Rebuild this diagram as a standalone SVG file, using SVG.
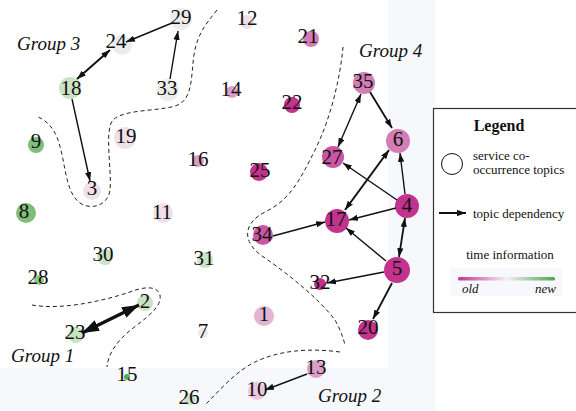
<svg xmlns="http://www.w3.org/2000/svg" width="576" height="411" viewBox="0 0 576 411" font-family="'Liberation Serif', 'Times New Roman', serif">
<style>
text{font-family:'Liberation Serif','Times New Roman',serif}
.n text{font-size:21px;fill:#111;text-anchor:middle}
.e line{stroke:#111;stroke-width:1.4}
.grp{fill:none;stroke:#222;stroke-width:1;stroke-dasharray:4 3}
.gl{font-style:italic;font-size:19px;fill:#111}
.lg{font-size:13px;fill:#111}
.mg{fill:#c2338e}.pm{fill:#ca55a2}.pk{fill:#d47cb5}.lp{fill:#dc9ec8}.vp{fill:#efe0ea}.gr{fill:#ececec}.lgn{fill:#c9e3c5}.gn{fill:#7fbd78}
</style>
<defs>
<marker id="ah" viewBox="0 0 10 7" refX="10" refY="3.5" markerWidth="9" markerHeight="6.5" markerUnits="userSpaceOnUse" orient="auto-start-reverse"><path d="M0,0 L10,3.5 L0,7 z" fill="#111"/></marker>
<marker id="ahb" viewBox="0 0 10 7" refX="10" refY="3.5" markerWidth="17" markerHeight="12" markerUnits="userSpaceOnUse" orient="auto-start-reverse"><path d="M0,0 L10,3.5 L0,7 z" fill="#111"/></marker>
<linearGradient id="tg" x1="0" x2="1" y1="0" y2="0"><stop offset="0" stop-color="#c2338e"/><stop offset="0.5" stop-color="#f4eef2"/><stop offset="1" stop-color="#4ca650"/></linearGradient>
</defs>
<rect width="576" height="411" fill="#fff"/>
<rect x="388" y="0" width="47" height="411" fill="#f7f8fc"/>
<rect x="0" y="368" width="435" height="43" fill="#f7f8fc"/>

<g id="boundaries">
<path class="grp" d="M217,10 C205,25 197,35 194,55 C191,75 193,95 180,104 C165,112 125,108 113,120 C104,130 112,170 110,190 C108,208 85,212 75,198 C65,185 65,160 58,140 C54,128 46,120 38,117"/>
<path class="grp" d="M343,47 C340,80 330,120 315,150 C300,180 290,200 265,212 C245,222 240,240 262,256 C290,275 320,300 335,320 C342,332 345,345 345,345"/>
<path class="grp" d="M340,352 C310,348 280,350 255,362 C235,372 220,390 205,405"/>
<path class="grp" d="M32,305 C60,310 100,302 130,292 C150,284 162,288 160,300 C157,312 140,322 127,333 C115,344 108,355 107,367"/>
<text class="gl" x="17" y="50">Group 3</text>
<text class="gl" x="359" y="57">Group 4</text>
<text class="gl" x="11" y="362">Group 1</text>
<text class="gl" x="318" y="402">Group 2</text>
</g>

<g id="n29" class="n"><circle class="gr" cx="181" cy="19" r="11"/><text x="181" y="24">29</text></g>
<g id="n24" class="n"><circle class="gr" cx="122" cy="45" r="10"/><text x="116" y="48">24</text></g>
<g id="n18" class="n"><circle class="lgn" cx="70" cy="88" r="11"/><text x="71" y="95">18</text></g>
<g id="n33" class="n"><circle class="gr" cx="168" cy="90" r="11"/><text x="167" y="95">33</text></g>
<g id="n12" class="n"><circle class="vp" cx="247" cy="22" r="7"/><text x="247" y="25">12</text></g>
<g id="n21" class="n"><circle class="pk" cx="311" cy="39" r="8"/><text x="308" y="43">21</text></g>
<g id="n14" class="n"><circle class="lp" cx="232" cy="92" r="6"/><text x="231" y="96">14</text></g>
<g id="n22" class="n"><circle class="mg" cx="292" cy="105" r="8"/><text x="292" y="109">22</text></g>
<g id="n35" class="n"><circle class="pk" cx="364" cy="83" r="11"/><text x="363" y="88">35</text></g>
<g id="n6" class="n"><circle class="pk" cx="398" cy="141" r="12"/><text x="398" y="146">6</text></g>
<g id="n27" class="n"><circle class="pm" cx="333" cy="157" r="11"/><text x="332" y="164">27</text></g>
<g id="n19" class="n"><circle class="vp" cx="125" cy="138" r="11"/><text x="126" y="143">19</text></g>
<g id="n9" class="n"><circle class="gn" cx="36" cy="145" r="8"/><text x="36" y="148">9</text></g>
<g id="n16" class="n"><circle class="lp" cx="198" cy="161" r="6"/><text x="198" y="166">16</text></g>
<g id="n25" class="n"><circle class="mg" cx="259" cy="172" r="9"/><text x="260" y="177">25</text></g>
<g id="n3" class="n"><circle class="vp" cx="92" cy="191" r="9"/><text x="92" y="195">3</text></g>
<g id="n8" class="n"><circle class="gn" cx="26" cy="213" r="10"/><text x="24" y="218">8</text></g>
<g id="n11" class="n"><circle class="vp" cx="163" cy="213" r="10"/><text x="162" y="219">11</text></g>
<g id="n4" class="n"><circle class="mg" cx="407" cy="206" r="12"/><text x="407" y="212">4</text></g>
<g id="n17" class="n"><circle class="mg" cx="337" cy="221" r="12"/><text x="336" y="226">17</text></g>
<g id="n34" class="n"><circle class="pm" cx="263" cy="235" r="10"/><text x="262" y="241">34</text></g>
<g id="n30" class="n"><circle class="lgn" cx="105" cy="257" r="8"/><text x="103" y="261">30</text></g>
<g id="n31" class="n"><circle class="lgn" cx="205" cy="260" r="8"/><text x="204" y="265">31</text></g>
<g id="n5" class="n"><circle class="mg" cx="397" cy="270" r="13"/><text x="397" y="275">5</text></g>
<g id="n32" class="n"><circle class="mg" cx="320" cy="284" r="6"/><text x="320" y="289">32</text></g>
<g id="n28" class="n"><circle fill="#8cc888" cx="39" cy="280" r="5"/><text x="38" y="284">28</text></g>
<g id="n2" class="n"><circle class="lgn" cx="145" cy="303" r="8"/><text x="145" y="308">2</text></g>
<g id="n23" class="n"><circle class="lgn" cx="76" cy="335" r="8"/><text x="75" y="339">23</text></g>
<g id="n7" class="n"><circle class="gr" cx="203" cy="333" r="5"/><text x="203" y="338">7</text></g>
<g id="n1" class="n"><circle fill="#e2b4d4" cx="264" cy="316" r="10"/><text x="264" y="321">1</text></g>
<g id="n20" class="n"><circle class="mg" cx="368" cy="330" r="10"/><text x="368" y="334">20</text></g>
<g id="n15" class="n"><circle fill="#4fae52" cx="127" cy="377" r="3"/><text x="127" y="381">15</text></g>
<g id="n13" class="n"><circle class="lp" cx="316" cy="369" r="9"/><text x="316" y="374">13</text></g>
<g id="n26" class="n"><circle class="lgn" cx="190" cy="399" r="6"/><text x="189" y="404">26</text></g>
<g id="n10" class="n"><circle fill="#ecc8e0" cx="257" cy="391" r="9"/><text x="257" y="396">10</text></g>

<g id="connectors" class="e">
<line x1="172" y1="23" x2="126" y2="42" marker-end="url(#ah)"/>
<line x1="170" y1="79" x2="178" y2="31" marker-end="url(#ah)"/>
<line x1="77" y1="79" x2="110" y2="50" style="stroke-width:2" marker-start="url(#ah)" marker-end="url(#ah)"/>
<line x1="72" y1="99" x2="90" y2="181" marker-end="url(#ah)"/>
<line x1="139" y1="305" x2="82" y2="333" style="stroke-width:3.5" marker-start="url(#ahb)" marker-end="url(#ahb)"/>
<line x1="307" y1="374" x2="265" y2="390" marker-end="url(#ah)"/>
<line x1="361" y1="94" x2="338" y2="147" marker-start="url(#ah)" marker-end="url(#ah)"/>
<line x1="370" y1="92" x2="392" y2="128" style="stroke-width:1.8" marker-end="url(#ah)"/>
<line x1="389" y1="150" x2="345" y2="210" style="stroke-width:2" marker-start="url(#ah)" marker-end="url(#ah)"/>
<line x1="397" y1="200" x2="343" y2="163" marker-end="url(#ah)"/>
<line x1="405" y1="194" x2="400" y2="153" marker-end="url(#ah)"/>
<line x1="396" y1="208" x2="349" y2="220" marker-end="url(#ah)"/>
<line x1="405" y1="218" x2="399" y2="257" style="stroke-width:1.8" marker-start="url(#ah)" marker-end="url(#ah)"/>
<line x1="386" y1="261" x2="346" y2="228" marker-end="url(#ah)"/>
<line x1="384" y1="272" x2="327" y2="283" marker-end="url(#ah)"/>
<line x1="392" y1="283" x2="373" y2="319" style="stroke-width:1.8" marker-end="url(#ah)"/>
<line x1="273" y1="236" x2="325" y2="222" marker-end="url(#ah)"/>
</g>

<g id="legend">
<rect x="433.5" y="108.5" width="150" height="204" fill="#fff" stroke="#333" stroke-width="1.2"/>
<text x="499" y="131" text-anchor="middle" style="font-weight:bold;font-size:16px;fill:#111">Legend</text>
<circle cx="452" cy="164" r="10.5" fill="#fff" stroke="#111" stroke-width="1"/>
<text class="lg" x="473" y="160">service co-</text>
<text class="lg" x="473" y="174">occurrence topics</text>
<line x1="439" y1="213" x2="466" y2="213" stroke="#111" stroke-width="2" marker-end="url(#ah)"/>
<text class="lg" x="473" y="218">topic dependency</text>
<text class="lg" x="510" y="259" text-anchor="middle">time information</text>
<rect x="450" y="268" width="112" height="28" fill="#f7f8fc"/>
<rect x="458" y="277" width="97" height="3.5" rx="1.5" fill="url(#tg)"/>
<text class="lg" x="462" y="293" style="font-style:italic">old</text>
<text class="lg" x="535" y="293" style="font-style:italic">new</text>
</g>
</svg>
